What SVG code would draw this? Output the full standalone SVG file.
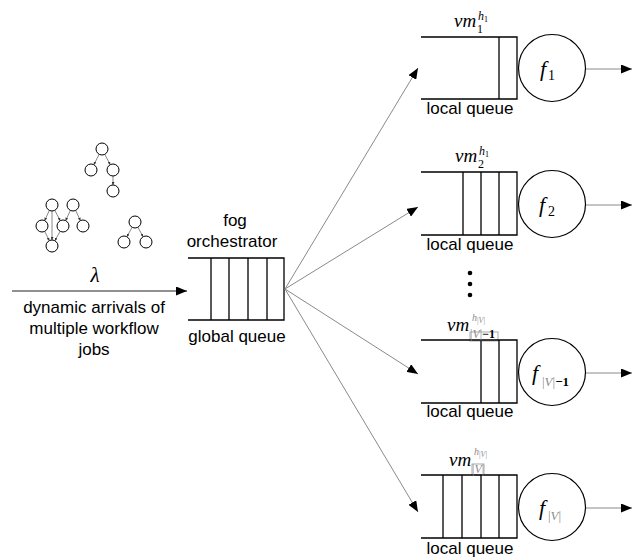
<svg xmlns="http://www.w3.org/2000/svg" width="638" height="559" viewBox="0 0 638 559">
<style>
.q{fill:none;stroke:#000;stroke-width:1.3}
.srv{fill:#fff;stroke:#000;stroke-width:1.2}
.lbl{font-family:"Liberation Sans",Arial,sans-serif;font-size:17px;fill:#000}
.m{font-family:"Liberation Serif","Times New Roman",serif;font-style:italic;fill:#000}
.r{font-family:"Liberation Serif","Times New Roman",serif;fill:#000}
.g{fill:#8c8c8c}
.fan{stroke:#8a8a8a;stroke-width:1;fill:none}
.dn{fill:#fff;stroke:#000;stroke-width:1}
.de{stroke:#555;stroke-width:0.7;fill:none}
.art{fill:none;stroke:#aaa;stroke-width:1}
</style>
<defs>
<marker id="ah" markerUnits="userSpaceOnUse" markerWidth="11" markerHeight="9" refX="11" refY="4.5" orient="auto">
<path d="M0,0 L11,4.5 L0,9 z" fill="#000"/>
</marker>
<marker id="sh" markerUnits="userSpaceOnUse" markerWidth="3" markerHeight="3" refX="3" refY="1.5" orient="auto">
<path d="M0,0 L3,1.5 L0,3 z" fill="#333"/>
</marker>
</defs>

<g id="workflows">
<g id="dag1">
<path class="de" marker-end="url(#sh)" d="M99.2,154.3 L93.8,164.7"/>
<path class="de" marker-end="url(#sh)" d="M104.8,154.3 L110.2,164.7"/>
<path class="de" marker-end="url(#sh)" d="M113,176 L113,185"/>
<circle class="dn" cx="102" cy="149" r="6"/>
<circle class="dn" cx="91" cy="170" r="6"/>
<circle class="dn" cx="113" cy="170" r="6"/>
<circle class="dn" cx="113" cy="191" r="6"/>
</g>
<g id="dag2">
<path class="de" marker-end="url(#sh)" d="M49.4,210.4 L44.6,220.6"/>
<path class="de" marker-end="url(#sh)" d="M54.8,210.3 L60.2,220.7"/>
<path class="de" marker-end="url(#sh)" d="M52,211 L52,240"/>
<path class="de" marker-end="url(#sh)" d="M70.4,210.4 L65.6,220.6"/>
<path class="de" marker-end="url(#sh)" d="M75.6,210.4 L80.4,220.6"/>
<path class="de" marker-end="url(#sh)" d="M44.7,231.4 L49.3,240.6"/>
<path class="de" marker-end="url(#sh)" d="M60.1,231.3 L54.9,240.7"/>
<circle class="dn" cx="52" cy="205" r="6"/>
<circle class="dn" cx="73" cy="205" r="6"/>
<circle class="dn" cx="42" cy="226" r="6"/>
<circle class="dn" cx="63" cy="226" r="6"/>
<circle class="dn" cx="83" cy="226" r="6"/>
<circle class="dn" cx="52" cy="246" r="6"/>
</g>
<g id="dag3">
<path class="de" marker-end="url(#sh)" d="M132.1,227.3 L126.9,236.7"/>
<path class="de" marker-end="url(#sh)" d="M137.9,227.3 L143.1,236.7"/>
<circle class="dn" cx="135" cy="222" r="6"/>
<circle class="dn" cx="124" cy="242" r="6"/>
<circle class="dn" cx="146" cy="242" r="6"/>
</g>
</g>

<g id="arrivals">
<text class="m" x="95" y="282" font-size="21" text-anchor="middle">λ</text>
<text class="lbl" x="94" y="313" text-anchor="middle">dynamic arrivals of</text>
<text class="lbl" x="94" y="334" text-anchor="middle">multiple workflow</text>
<text class="lbl" x="94" y="355" text-anchor="middle">jobs</text>
</g>

<g id="global-queue">
<text class="lbl" x="235" y="226" text-anchor="middle">fog</text>
<text class="lbl" x="232" y="247" text-anchor="middle">orchestrator</text>
<path class="q" d="M188,258 H284 V320 H188 M211,258 V320 M229,258 V320 M248,258 V320 M267,258 V320"/>
<text class="lbl" x="237" y="342" text-anchor="middle">global queue</text>
</g>

<g id="vm1">
<path class="q" d="M421,37 H517 V99 H421 M499,37 V99"/>
<circle class="srv" cx="552" cy="68" r="33.5"/>
<text class="m" x="454" y="27" font-size="19">vm</text>
<text class="r" x="477" y="33" font-size="12">1</text>
<text class="m" x="478" y="20" font-size="12">h</text>
<text class="r" x="484" y="22" font-size="8">1</text>
<text class="m" x="540" y="76" font-size="22">f</text>
<text class="r" x="548" y="80" font-size="14">1</text>
<text class="lbl" x="470" y="114" text-anchor="middle">local queue</text>
</g>

<g id="vm2">
<path class="q" d="M421,172 H517 V235 H421 M463,172 V235 M481,172 V235 M499,172 V235"/>
<circle class="srv" cx="552" cy="204" r="33.5"/>
<text class="m" x="455" y="162" font-size="19">vm</text>
<text class="r" x="478" y="168" font-size="12">2</text>
<text class="m" x="479" y="155" font-size="12">h</text>
<text class="r" x="485" y="157" font-size="8">1</text>
<text class="m" x="539" y="212" font-size="22">f</text>
<text class="r" x="548" y="216" font-size="14">2</text>
<text class="lbl" x="470" y="250" text-anchor="middle">local queue</text>
</g>

<g id="ellipsis">
<circle cx="470" cy="273" r="2.3" fill="#000"/>
<circle cx="470" cy="284" r="2.3" fill="#000"/>
<circle cx="470" cy="295" r="2.3" fill="#000"/>
</g>

<g id="vm3">
<rect class="art" x="470" y="332" width="28" height="9"/>
<path class="q" d="M421,340 H517 V403 H421 M481,340 V403 M499,340 V403"/>
<circle class="srv" cx="552" cy="372" r="33.5"/>
<text class="m" x="447" y="331" font-size="19">vm</text>
<text class="r" x="470" y="338" font-size="12"><tspan class="g">|</tspan><tspan class="m g">V</tspan><tspan class="g">|</tspan><tspan font-weight="bold">−1</tspan></text>
<text class="m g" x="472" y="321" font-size="10">h</text>
<text class="r g" x="477" y="323" font-size="8">|<tspan font-style="italic">V</tspan>|</text>
<text class="m" x="532" y="380" font-size="22">f</text>
<text class="r" x="542" y="386" font-size="13"><tspan class="g">|</tspan><tspan class="m g">V</tspan><tspan class="g">|</tspan><tspan font-weight="bold">−1</tspan></text>
<text class="lbl" x="470" y="417" text-anchor="middle">local queue</text>
</g>

<g id="vm4">
<rect class="art" x="472" y="464" width="12" height="11"/>
<path class="q" d="M421,475 H517 V538 H421 M443,475 V538 M462,475 V538 M481,475 V538 M499,475 V538"/>
<circle class="srv" cx="552" cy="507" r="33.5"/>
<text class="m" x="449" y="466" font-size="19">vm</text>
<text class="r g" x="472" y="473" font-size="12">|<tspan font-style="italic">V</tspan>|</text>
<text class="m g" x="474" y="455" font-size="10">h</text>
<text class="r g" x="479" y="457" font-size="8">|<tspan font-style="italic">V</tspan>|</text>
<text class="m" x="539" y="515" font-size="22">f</text>
<text class="r g" x="548" y="520" font-size="13">|<tspan font-style="italic">V</tspan>|</text>
<text class="lbl" x="470" y="554" text-anchor="middle">local queue</text>
</g>

<g id="connectors">
<path d="M12,291 H187" stroke="#222" stroke-width="1" marker-end="url(#ah)"/>
<path class="fan" d="M285,289 L418,68" marker-end="url(#ah)"/>
<path class="fan" d="M285,289 L418,207" marker-end="url(#ah)"/>
<path class="fan" d="M285,289 L418,374" marker-end="url(#ah)"/>
<path class="fan" d="M285,289 L418,512" marker-end="url(#ah)"/>
<path class="fan" d="M586,69 H632" marker-end="url(#ah)"/>
<path class="fan" d="M586,205 H632" marker-end="url(#ah)"/>
<path class="fan" d="M586,373 H632" marker-end="url(#ah)"/>
<path class="fan" d="M586,508 H632" marker-end="url(#ah)"/>
</g>
</svg>
